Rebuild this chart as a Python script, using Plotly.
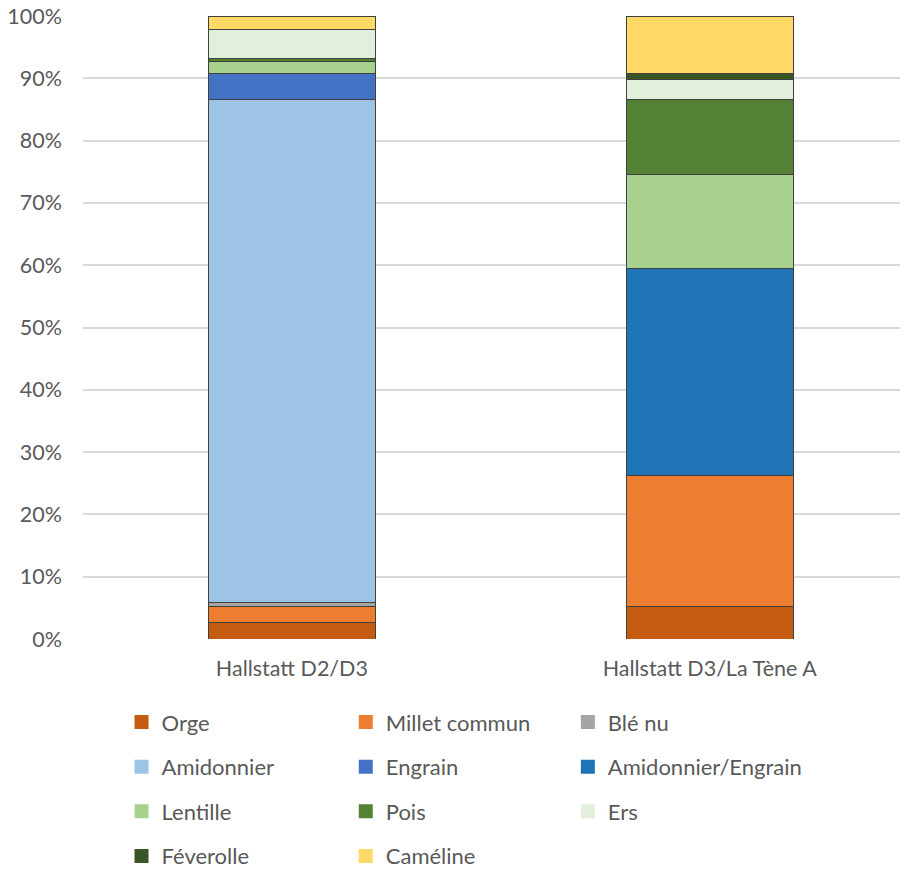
import plotly.graph_objects as go

# ---------------- data ----------------
categories = ["Hallstatt D2/D3", "Hallstatt D3/La Tène A"]

series_names = ["Orge", "Millet commun", "Blé nu",
                "Amidonnier", "Engrain", "Amidonnier/Engrain",
                "Lentille", "Pois", "Ers",
                "Féverolle", "Caméline"]

orge         = [2.6, 5.2]
millet       = [2.6, 21.1]
ble_nu       = [0.6, 0.0]
amidonnier   = [80.8, 0.0]
engrain      = [4.2, 0.0]
amid_engrain = [0.0, 33.2]
lentille     = [1.9, 15.0]
pois         = [0.4, 12.1]
ers          = [4.7, 3.2]
feverolle    = [0.0, 1.0]
cameline     = [2.2, 9.2]

series_values = [orge, millet, ble_nu, amidonnier, engrain, amid_engrain,
                 lentille, pois, ers, feverolle, cameline]

y_tick_values = [0, 10, 20, 30, 40, 50, 60, 70, 80, 90, 100]
y_tick_labels = ["0%", "10%", "20%", "30%", "40%", "50%",
                 "60%", "70%", "80%", "90%", "100%"]

# ---------------- style ----------------
colors = ["#C55A11", "#ED7D31", "#A5A5A5",
          "#9DC3E6", "#4472C4", "#1F74B8",
          "#A9D18E", "#548235", "#E2EFDA",
          "#375623", "#FFD966"]

FONT = "Lato"
TXT = "#595959"

fig = go.Figure()

for name, vals, col in zip(series_names, series_values, colors):
    fig.add_trace(go.Bar(
        x=categories, y=vals, name=name,
        marker=dict(color=col, line=dict(color="#404040", width=1)),
        width=0.4, showlegend=False,
    ))

# legend entries (three columns, as in the reference)
legend_ids = ["legend", "legend2", "legend3"]
for i, (name, col) in enumerate(zip(series_names, colors)):
    fig.add_trace(go.Scatter(
        x=[None], y=[None], mode="markers", name=name,
        marker=dict(symbol="square", size=14, color=col),
        legend=legend_ids[i % 3], legendgroup=name, showlegend=True,
    ))

leg_common = dict(orientation="v", yanchor="top", xanchor="left",
                  font=dict(family=FONT, size=22, color=TXT),
                  tracegroupgap=13, bgcolor="rgba(0,0,0,0)",
                  itemclick=False, itemdoubleclick=False)

fig.update_layout(
    width=900, height=864,
    margin=dict(l=75.3, r=0, t=7.7, b=233.3, autoexpand=False),
    paper_bgcolor="white", plot_bgcolor="white",
    barmode="stack",
    font=dict(family=FONT, size=21, color=TXT),
    xaxis=dict(type="category", range=[-0.5, 1.4747],
               showgrid=False, zeroline=False, showline=False,
               ticks="", ticklabelstandoff=14, automargin=False,
               tickfont=dict(family=FONT, size=21.5, color=TXT)),
    yaxis=dict(range=[0, 100], tickvals=y_tick_values, ticktext=y_tick_labels,
               showgrid=True, gridcolor="#D9D9D9", gridwidth=2,
               zeroline=False, showline=False, ticks="",
               ticklabelstandoff=20, automargin=False,
               ticklabeloverflow="allow",
               tickfont=dict(family=FONT, size=21.5, color=TXT)),
    legend=dict(x=0.0467, y=-0.1, **leg_common),
    legend2=dict(x=0.3185, y=-0.1, **leg_common),
    legend3=dict(x=0.5877, y=-0.1, **leg_common),
)

fig.write_html("out.html")
